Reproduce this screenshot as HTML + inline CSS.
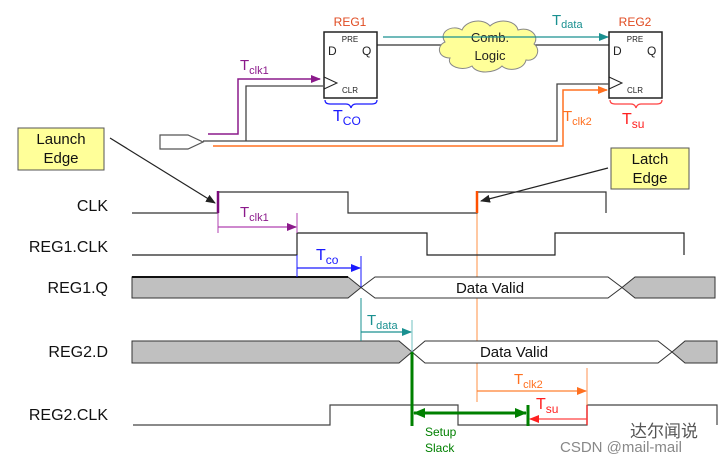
<!DOCTYPE html>
<html><head><meta charset="utf-8"><style>
html,body{margin:0;padding:0;background:#fff;}
svg{display:block;font-family:"Liberation Sans","Noto Sans CJK SC",sans-serif;}
</style></head><body>
<svg width="728" height="462" viewBox="0 0 728 462" xmlns="http://www.w3.org/2000/svg">
<defs>
<marker id="ak" markerWidth="10" markerHeight="8" refX="9" refY="4" orient="auto" markerUnits="userSpaceOnUse"><path d="M0,0 L10,4 L0,8 z" fill="#222"/></marker>
<marker id="ap" markerWidth="10" markerHeight="8" refX="9" refY="4" orient="auto" markerUnits="userSpaceOnUse"><path d="M0,0 L10,4 L0,8 z" fill="#8b1a8b"/></marker>
<marker id="ab" markerWidth="10" markerHeight="8" refX="9" refY="4" orient="auto" markerUnits="userSpaceOnUse"><path d="M0,0 L10,4 L0,8 z" fill="#1a1aff"/></marker>
<marker id="at" markerWidth="10" markerHeight="8" refX="9" refY="4" orient="auto" markerUnits="userSpaceOnUse"><path d="M0,0 L10,4 L0,8 z" fill="#1a9090"/></marker>
<marker id="ao" markerWidth="10" markerHeight="8" refX="9" refY="4" orient="auto" markerUnits="userSpaceOnUse"><path d="M0,0 L10,4 L0,8 z" fill="#ff7020"/></marker>
<marker id="ar" markerWidth="10" markerHeight="8" refX="9" refY="4" orient="auto" markerUnits="userSpaceOnUse"><path d="M0,0 L10,4 L0,8 z" fill="#ff2020"/></marker>
<marker id="ag" markerWidth="12" markerHeight="10" refX="11" refY="5" orient="auto" markerUnits="userSpaceOnUse"><path d="M0,0 L12,5 L0,10 z" fill="#008000"/></marker>
<marker id="ag2" markerWidth="12" markerHeight="10" refX="1" refY="5" orient="auto" markerUnits="userSpaceOnUse"><path d="M12,0 L0,5 L12,10 z" fill="#008000"/></marker>
</defs>

<!-- ===== circuit ===== -->
<!-- wires -->
<polyline points="377,45 450,45" fill="none" stroke="#333" stroke-width="1.3"/>
<polyline points="530,45 609,45" fill="none" stroke="#333" stroke-width="1.3"/>
<!-- cloud -->
<g fill="#ffff99" stroke="#888" stroke-width="1">
<path d="M445,42 C438,32 452,24 462,30 C466,20 484,18 490,26 C498,18 516,20 518,30 C530,26 540,36 534,44 C542,50 536,62 526,60 C524,70 508,72 502,66 C494,74 476,74 472,66 C462,72 446,66 450,58 C438,58 436,46 445,42 z"/>
</g>
<text x="490" y="42" font-size="13" text-anchor="middle" fill="#222">Comb.</text>
<text x="490" y="60" font-size="13" text-anchor="middle" fill="#222">Logic</text>
<!-- Tdata arrow -->
<line x1="383" y1="37" x2="608" y2="37" stroke="#1a9090" stroke-width="1.3" marker-end="url(#at)"/>
<text x="552" y="25" font-size="15" fill="#1a9090">T<tspan font-size="11" dy="3">data</tspan></text>

<!-- REG1 -->
<rect x="324" y="32" width="53" height="66" fill="#fff" stroke="#222" stroke-width="1.5"/>
<text x="350" y="26" font-size="12" text-anchor="middle" fill="#e04a20">REG1</text>
<text x="350" y="42" font-size="8" text-anchor="middle" fill="#222">PRE</text>
<text x="328" y="55" font-size="12" fill="#222">D</text>
<text x="362" y="55" font-size="12" fill="#222">Q</text>
<text x="350" y="93" font-size="8" text-anchor="middle" fill="#222">CLR</text>
<polyline points="324,77 337,83 324,89" fill="none" stroke="#222" stroke-width="1"/>
<!-- REG2 -->
<rect x="609" y="32" width="53" height="66" fill="#fff" stroke="#222" stroke-width="1.5"/>
<text x="635" y="26" font-size="12" text-anchor="middle" fill="#e04a20">REG2</text>
<text x="635" y="42" font-size="8" text-anchor="middle" fill="#222">PRE</text>
<text x="613" y="55" font-size="12" fill="#222">D</text>
<text x="647" y="55" font-size="12" fill="#222">Q</text>
<text x="635" y="93" font-size="8" text-anchor="middle" fill="#222">CLR</text>
<polyline points="609,77 622,83 609,89" fill="none" stroke="#222" stroke-width="1"/>

<!-- braces -->
<path d="M325,100 Q325,104 330,104 L346,104 Q350,104 351,108 Q352,104 356,104 L372,104 Q377,104 377,100" fill="none" stroke="#1a1aff" stroke-width="1.2"/>
<text x="333" y="121" font-size="16" fill="#1a1aff">T<tspan font-size="12" dy="4">CO</tspan></text>
<path d="M610,100 Q610,104 615,104 L631,104 Q635,104 636,108 Q637,104 641,104 L657,104 Q662,104 662,100" fill="none" stroke="#ff4040" stroke-width="1.2"/>
<text x="622" y="124" font-size="16" fill="#ff2020">T<tspan font-size="12" dy="4">su</tspan></text>

<!-- input pentagon -->
<polygon points="160,135 188,135 203,142 188,149 160,149" fill="#fff" stroke="#555" stroke-width="1.2"/>
<!-- gray clock wire -->
<polyline points="203,141 557,141 557,84 609,84" fill="none" stroke="#444" stroke-width="1.3"/>
<polyline points="246,141 246,86 323,86" fill="none" stroke="#444" stroke-width="1.3"/>
<!-- purple -->
<polyline points="208,134 238,134 238,79 320,79" fill="none" stroke="#8b1a8b" stroke-width="1.5" marker-end="url(#ap)"/>
<text x="240" y="70" font-size="15" fill="#8b1a8b">T<tspan font-size="11" dy="4">clk1</tspan></text>
<!-- orange -->
<polyline points="213,146 563,146 563,90 607,90" fill="none" stroke="#ff7020" stroke-width="1.5" marker-end="url(#ao)"/>
<text x="563" y="121" font-size="15" fill="#ff7020">T<tspan font-size="11" dy="4">clk2</tspan></text>

<!-- Launch / Latch boxes -->
<rect x="18" y="128" width="86" height="42" fill="#ffff99" stroke="#555" stroke-width="1"/>
<text x="61" y="144" font-size="15" text-anchor="middle" fill="#111">Launch</text>
<text x="61" y="163" font-size="15" text-anchor="middle" fill="#111">Edge</text>
<line x1="110" y1="138" x2="215" y2="203" stroke="#222" stroke-width="1.2" marker-end="url(#ak)"/>
<rect x="611" y="148" width="78" height="41" fill="#ffff99" stroke="#555" stroke-width="1"/>
<text x="650" y="164" font-size="15" text-anchor="middle" fill="#111">Latch</text>
<text x="650" y="183" font-size="15" text-anchor="middle" fill="#111">Edge</text>
<line x1="608" y1="168" x2="481" y2="201" stroke="#222" stroke-width="1.2" marker-end="url(#ak)"/>

<!-- ===== timing labels ===== -->
<g font-size="16" fill="#111" text-anchor="end">
<text x="108" y="211">CLK</text>
<text x="108" y="252">REG1.CLK</text>
<text x="108" y="293">REG1.Q</text>
<text x="108" y="357">REG2.D</text>
<text x="108" y="420">REG2.CLK</text>
</g>

<!-- orange latch vertical -->
<line x1="477" y1="192" x2="477" y2="402" stroke="#ffaa70" stroke-width="1.3"/>

<!-- CLK -->
<polyline points="132,213 218,213 218,192 348,192 348,213 477,213 477,192 606,192 606,213" fill="none" stroke="#333" stroke-width="1.2"/>
<line x1="218" y1="191" x2="218" y2="213" stroke="#7a0a7a" stroke-width="2.5"/>
<line x1="477" y1="191" x2="477" y2="213" stroke="#ff5000" stroke-width="2.5"/>
<!-- REG1.CLK -->
<polyline points="132,255 297,255 297,233 427,233 427,255 555,255 555,233 684,233 684,255" fill="none" stroke="#222" stroke-width="1.2"/>
<!-- REG2.CLK -->
<polyline points="133,425 330,425 330,405 458,405 458,425 587,425 587,405 717,405 717,425" fill="none" stroke="#444" stroke-width="1.2"/>

<!-- REG1.Q bus -->
<polygon points="132,277 348,277 361,287.5 348,298 132,298" fill="#c0c0c0" stroke="#333" stroke-width="1"/>
<polygon points="361,287.5 375,277 608,277 622,287.5 608,298 375,298" fill="#fff" stroke="#333" stroke-width="1"/>
<polygon points="622,287.5 635,277 715,277 715,298 635,298" fill="#c0c0c0" stroke="#333" stroke-width="1"/>
<line x1="132" y1="277" x2="348" y2="277" stroke="#111" stroke-width="2"/>
<text x="490" y="293" font-size="15" text-anchor="middle" fill="#111">Data Valid</text>
<!-- REG2.D bus -->
<polygon points="132,341 399,341 412,352 399,363 132,363" fill="#c0c0c0" stroke="#333" stroke-width="1"/>
<polygon points="412,352 425,341 658,341 672,352 658,363 425,363" fill="#fff" stroke="#333" stroke-width="1"/>
<polygon points="672,352 685,341 717,341 717,363 685,363" fill="#c0c0c0" stroke="#333" stroke-width="1"/>
<text x="514" y="357" font-size="15" text-anchor="middle" fill="#111">Data Valid</text>

<!-- Tclk1 -->
<line x1="218" y1="213" x2="218" y2="233" stroke="#b040b0" stroke-width="1"/>
<line x1="297" y1="213" x2="297" y2="233" stroke="#b040b0" stroke-width="1"/>
<line x1="218" y1="227" x2="296" y2="227" stroke="#b040b0" stroke-width="1.2" marker-end="url(#ap)"/>
<text x="240" y="217" font-size="15" fill="#8b1a8b">T<tspan font-size="11" dy="4">clk1</tspan></text>
<!-- Tco -->
<line x1="297" y1="255" x2="297" y2="277" stroke="#1a1aff" stroke-width="1"/>
<line x1="361" y1="256" x2="361" y2="287" stroke="#1a1aff" stroke-width="1"/>
<line x1="297" y1="268" x2="360" y2="268" stroke="#1a1aff" stroke-width="1.3" marker-end="url(#ab)"/>
<text x="316" y="260" font-size="16" fill="#1a1aff">T<tspan font-size="12" dy="4">co</tspan></text>
<!-- Tdata -->
<line x1="361" y1="298" x2="361" y2="341" stroke="#1a9090" stroke-width="1"/>
<line x1="412" y1="320" x2="412" y2="352" stroke="#70c0c0" stroke-width="1"/>
<line x1="361" y1="332" x2="411" y2="332" stroke="#1a9090" stroke-width="1.2" marker-end="url(#at)"/>
<text x="367" y="325" font-size="15" fill="#1a9090">T<tspan font-size="11" dy="4">data</tspan></text>
<!-- Tclk2 -->
<line x1="587" y1="368" x2="587" y2="425" stroke="#ff9050" stroke-width="1"/>
<line x1="477" y1="391" x2="586" y2="391" stroke="#ff8030" stroke-width="1.3" marker-end="url(#ao)"/>
<text x="514" y="384" font-size="15" fill="#ff7020">T<tspan font-size="11" dy="4">clk2</tspan></text>
<!-- Tsu -->
<line x1="587" y1="405" x2="587" y2="425" stroke="#ff2020" stroke-width="1.3"/>
<line x1="587" y1="419" x2="530" y2="419" stroke="#ff4040" stroke-width="1.3" marker-end="url(#ar)"/>
<text x="536" y="409" font-size="16" fill="#ff2020">T<tspan font-size="12" dy="4">su</tspan></text>
<!-- Setup slack -->
<line x1="412" y1="352" x2="412" y2="426" stroke="#008000" stroke-width="3"/>
<line x1="528" y1="405" x2="528" y2="426" stroke="#008000" stroke-width="3"/>
<line x1="414" y1="413" x2="526" y2="413" stroke="#008000" stroke-width="3" marker-end="url(#ag)" marker-start="url(#ag2)"/>
<text x="425" y="436" font-size="12" fill="#008000">Setup</text>
<text x="425" y="452" font-size="12" fill="#008000">Slack</text>

<!-- watermark -->
<text x="630" y="437" font-size="17" fill="#555">达尔闻说</text>
<text x="560" y="452" font-size="15" fill="#888">CSDN @mail-mail</text>
</svg>
</body></html>
